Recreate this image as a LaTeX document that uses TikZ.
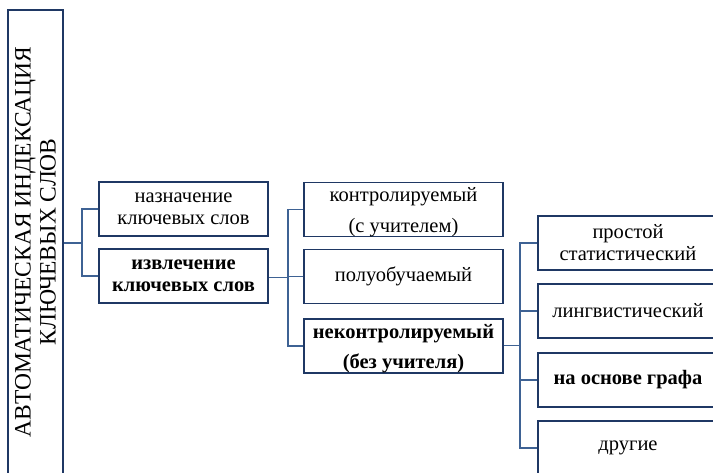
\documentclass[tikz,border=0pt]{standalone}
\usepackage{fontspec}
\setmainfont{Liberation Serif}
\usetikzlibrary{positioning}

\definecolor{boxline}{RGB}{31,56,100}
\definecolor{linkline}{RGB}{62,98,148}

\newcommand{\boxfont}{\fontsize{20.5}{22}\selectfont}

\tikzset{
  box/.style={draw=boxline, line width=1.5pt, fill=white, align=center,
    inner sep=2pt, font=\boxfont},
  wide/.style={box, minimum width=199pt, minimum height=54pt},
  small/.style={box, minimum width=169pt, minimum height=54pt},
  leaf/.style={box, minimum width=180pt, minimum height=54pt},
  link/.style={draw=linkline, line width=1.3pt}
}

\begin{document}
\begin{tikzpicture}[x=1pt,y=-1pt]
  \useasboundingbox (0,0) rectangle (713,472);
  \clip (0,0) rectangle (713,472);

  % root box, text turned upwards
  \node[box, rotate=90, minimum width=464pt, minimum height=55pt,
    font=\fontsize{23.5}{25}\selectfont] (root) at (35.5,242)
    {АВТОМАТИЧЕСКАЯ ИНДЕКСАЦИЯ\\КЛЮЧЕВЫХ СЛОВ};

  % first level
  \node[small] (assign) at (183.5,209) {назначение\\ключевых  слов};
  \node[small, font=\boxfont\bfseries] (extract) at (183.5,276)
    {извлечение\\ключевых слов};

  % second level
  \node[wide, text depth=0pt] (sup) at (403.5,209.5)
    {контролируемый\\[9pt](с учителем)};
  \node[wide] (semi) at (403.5,276.5) {полуобучаемый};
  \node[wide, text depth=0pt, font=\boxfont\bfseries] (unsup) at (403.5,346)
    {неконтролируемый\\[8pt](без учителя)};

  % third level
  \node[leaf] (simple) at (628,243) {простой\\статистический};
  \node[leaf] (ling) at (628,311) {лингвистический};
  \node[leaf, font=\boxfont\bfseries] (graph) at (628,380)
    {на основе графа};
  \node[leaf] (other) at (628,448) {другие};

  % connectors
  \coordinate (j1) at (82,243);
  \coordinate (j2) at (288,277.5);
  \coordinate (j3) at (520,345.5);
  \draw[link] (root.south |- j1) -- (j1);
  \draw[link] (assign.west) -| (j1) |- (extract.west);
  \draw[link] (extract.east |- j2) -- (j2);
  \draw[link] (sup.west) -| (j2) |- (unsup.west);
  \draw[link] (semi.west) -- (semi.west -| j2);
  \draw[link] (unsup.east |- j3) -- (j3);
  \draw[link] (simple.west) -| (j3) |- (other.west);
  \draw[link] (ling.west) -- (ling.west -| j3);
  \draw[link] (graph.west) -- (graph.west -| j3);
\end{tikzpicture}
\end{document}
